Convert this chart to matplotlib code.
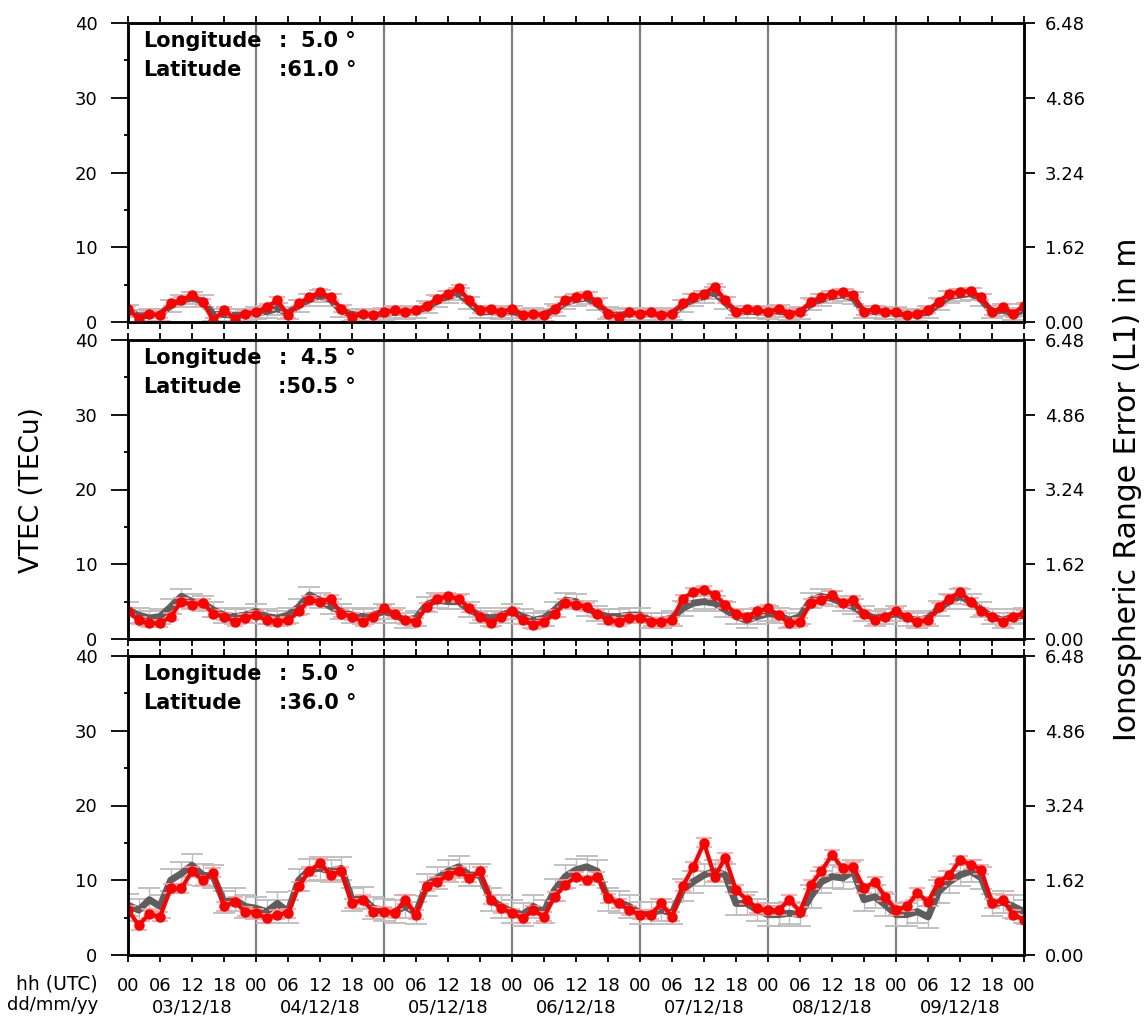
import numpy as np
import matplotlib
matplotlib.use("Agg")
import matplotlib.pyplot as plt
import matplotlib.transforms as mtransforms

plt.rcParams['font.family'] = ['DejaVu Sans']

# 2-hourly samples from 03/12/18 00 UTC to 10/12/18 00 UTC
hours = np.arange(0, 169, 2)
day_labels = ["03/12/18", "04/12/18", "05/12/18", "06/12/18", "07/12/18", "08/12/18", "09/12/18"]
lon_labels = ["5.0", "4.5", "5.0"]
lat_labels = ["61.0", "50.5", "36.0"]

# panel 1 (61.0 N)
obs_61 = [1.8, 0.45, 1.1, 0.9, 2.5, 2.9, 3.6, 2.7, 0.2, 1.6, 0.45, 1.1, 1.3,
          2.0, 2.9, 0.9, 2.5, 3.3, 4.0, 3.3, 1.8, 0.7, 1.1, 0.9, 1.3,
          1.6, 1.3, 1.6, 2.2, 3.1, 3.8, 4.5, 2.9, 1.6, 1.8, 1.3, 1.8,
          0.9, 1.1, 0.9, 1.8, 2.9, 3.3, 3.6, 2.7, 1.1, 0.7, 1.3, 1.1,
          1.3, 0.9, 1.1, 2.5, 3.3, 3.8, 4.7, 2.9, 1.3, 1.8, 1.6, 1.3,
          1.8, 1.1, 1.3, 2.7, 3.3, 3.8, 4.0, 3.6, 1.3, 1.8, 1.3, 1.3,
          0.9, 1.1, 1.6, 2.7, 3.8, 4.0, 4.2, 3.3, 1.3, 2.0, 1.1, 2.2]
mod_61 = [1.5, 0.8, 0.9, 1.0, 2.2, 2.8, 3.2, 2.8, 1.0, 1.0, 0.9, 1.0, 1.2,
          1.4, 1.8, 1.2, 2.2, 3.0, 3.5, 3.0, 1.5, 1.0, 1.0, 0.9, 1.1,
          1.3, 1.2, 1.4, 2.0, 2.8, 3.4, 3.8, 2.6, 1.3, 1.4, 1.2, 1.4,
          1.0, 1.1, 1.0, 1.6, 2.6, 3.0, 3.2, 2.4, 1.2, 0.9, 1.1, 1.0,
          1.1, 1.0, 1.1, 2.2, 3.0, 3.4, 3.9, 2.6, 1.3, 1.4, 1.4, 1.2,
          1.5, 1.1, 1.2, 2.4, 3.0, 3.4, 3.6, 3.2, 1.3, 1.4, 1.2, 1.2,
          1.0, 1.0, 1.3, 2.4, 3.4, 3.6, 3.8, 3.0, 1.3, 1.6, 1.1, 1.6]

# panel 2 (50.5 N)
obs_50 = [3.7, 2.5, 2.1, 2.1, 3.0, 5.0, 4.6, 4.8, 3.4, 3.0, 2.3, 2.8, 3.2,
          2.5, 2.3, 2.5, 3.7, 5.2, 5.0, 5.4, 3.4, 3.0, 2.3, 3.0, 4.1,
          3.4, 2.5, 2.3, 4.3, 5.4, 5.7, 5.4, 4.1, 3.0, 2.1, 3.0, 3.7,
          2.5, 1.9, 2.3, 3.4, 4.8, 4.6, 4.3, 3.4, 2.5, 2.3, 2.8, 2.8,
          2.3, 2.3, 2.5, 5.4, 6.3, 6.6, 5.9, 4.6, 3.4, 3.0, 3.7, 4.1,
          3.2, 2.1, 2.3, 4.8, 5.2, 5.9, 4.8, 5.2, 3.4, 2.5, 3.0, 3.7,
          3.0, 2.3, 2.5, 4.3, 5.4, 6.3, 5.0, 3.7, 3.0, 2.3, 3.0, 3.4]
mod_50 = [3.9, 3.2, 2.8, 3.0, 4.3, 5.7, 5.0, 4.8, 3.9, 3.2, 3.0, 3.2, 3.7,
          3.0, 2.8, 3.2, 4.3, 5.9, 5.2, 4.3, 3.7, 3.2, 3.0, 3.2, 3.7,
          3.2, 2.5, 2.8, 4.6, 5.2, 5.0, 5.0, 3.9, 3.2, 2.8, 3.2, 3.7,
          3.0, 2.5, 2.8, 3.9, 5.2, 5.0, 4.1, 3.4, 3.0, 3.0, 3.2, 3.2,
          2.5, 2.5, 2.8, 4.1, 4.8, 5.0, 4.8, 3.9, 3.0, 2.5, 3.0, 3.4,
          3.2, 2.5, 3.0, 5.2, 5.7, 5.4, 4.8, 4.3, 3.4, 2.8, 3.0, 3.4,
          2.8, 2.5, 2.8, 4.1, 5.0, 5.7, 5.0, 3.9, 3.0, 2.5, 3.0, 3.2]

# panel 3 (36.0 N)
obs_36 = [6.0, 4.0, 5.5, 5.1, 8.9, 8.9, 11.2, 10.0, 11.0, 6.5, 7.1, 5.8, 5.6,
          4.9, 5.4, 5.6, 9.2, 11.2, 12.3, 10.7, 11.2, 6.9, 7.4, 5.8, 5.8,
          5.6, 7.4, 5.4, 9.2, 9.8, 10.7, 11.2, 10.3, 11.2, 7.4, 6.25, 5.6,
          4.9, 6.0, 5.1, 7.8, 9.4, 10.5, 10.0, 10.5, 7.6, 6.9, 6.0, 5.4,
          5.4, 6.9, 5.1, 9.2, 11.8, 15.0, 10.5, 13.0, 8.7, 7.4, 6.25, 6.0,
          6.0, 7.4, 5.8, 9.4, 11.2, 13.4, 11.6, 11.8, 8.9, 9.8, 7.8, 6.0,
          6.5, 8.3, 7.1, 9.8, 10.7, 12.7, 12.1, 11.4, 6.9, 7.4, 5.4, 4.7]
mod_36 = [6.7, 6.0, 7.4, 6.5, 10.0, 10.9, 12.0, 10.7, 10.5, 7.1, 7.4, 6.5, 6.25,
          5.8, 6.9, 5.8, 10.0, 11.4, 11.6, 11.2, 11.6, 7.4, 7.6, 6.25, 6.0,
          5.8, 6.5, 5.6, 9.4, 10.3, 11.2, 11.8, 10.7, 10.7, 7.4, 6.5, 5.8,
          5.4, 6.5, 5.8, 8.7, 10.5, 11.4, 11.8, 11.2, 7.4, 7.1, 6.5, 5.6,
          5.6, 6.0, 5.6, 8.7, 9.8, 10.7, 11.2, 10.7, 6.9, 6.9, 6.0, 5.4,
          5.4, 5.6, 5.4, 7.8, 9.8, 10.5, 10.3, 11.2, 7.4, 7.8, 6.7, 5.4,
          5.4, 5.8, 5.1, 8.5, 9.8, 10.7, 11.2, 10.3, 6.7, 7.1, 6.5, 5.8]

obs_all = [obs_61, obs_50, obs_36]
mod_all = [mod_61, mod_50, mod_36]
err_mod = [0.8, 1.0, 1.5]
err_obs = [0.4, 0.5, 0.6]

right_ticks = [0.00, 1.62, 3.24, 4.86, 6.48]

fig = plt.figure(figsize=(11.44, 10.16), dpi=100)
W, H = 1144.0, 1016.0
tops = [23, 340, 656]
ph = 299

for i in range(3):
    ax = fig.add_axes([128 / W, (H - tops[i] - ph) / H, 896 / W, ph / H])
    for d in range(1, 7):
        ax.axvline(24 * d, color='#7f7f7f', lw=1.6, zorder=1)

    ax.errorbar(hours, mod_all[i], yerr=err_mod[i], fmt='none', ecolor='#bdbdbd',
                elinewidth=1, capsize=8, capthick=1.3, zorder=2)
    ax.plot(hours, mod_all[i], color='#5e5e5e', lw=5, zorder=3)
    ax.errorbar(hours, obs_all[i], yerr=err_obs[i], fmt='none', ecolor='#ff9e9e',
                elinewidth=1, capsize=6, capthick=1.2, zorder=4)
    ax.plot(hours, obs_all[i], color='red', lw=3, marker='o', ms=6.5, mec='red', zorder=5)

    ax.set_xlim(0, 168)
    ax.set_ylim(0, 40)
    ax.set_xticks(np.arange(0, 169, 6))
    ax.set_yticks([0, 10, 20, 30, 40])
    ax.set_yticks([5, 15, 25, 35], minor=True)
    ax.tick_params(axis='y', which='major', direction='out', length=12, width=1.3,
                   pad=10, labelsize=13)
    ax.tick_params(axis='y', which='minor', direction='out', length=3, width=1.3)
    ax.tick_params(axis='x', direction='out', length=5, width=1.3, top=True, bottom=True)
    for s in ax.spines.values():
        s.set_linewidth(1.8)

    if i == 2:
        ax.set_xticklabels(["%02d" % (h % 24) for h in np.arange(0, 169, 6)], fontsize=13)
        ax.tick_params(axis='x', pad=11)
        trans = mtransforms.blended_transform_factory(ax.transData, ax.transAxes)
        for d, lab in enumerate(day_labels):
            ax.text(12 + 24 * d, -(1013 - 955) / ph, lab, transform=trans,
                    ha='center', va='baseline', fontsize=13)
    else:
        ax.set_xticklabels([])

    ax.text(0.0167, 0.919, "Longitude", transform=ax.transAxes, fontsize=15,
            fontweight='bold', va='baseline', zorder=6)
    ax.text(0.173, 0.919, ":", transform=ax.transAxes, fontsize=15,
            fontweight='bold', va='baseline', ha='center', zorder=6)
    ax.text(0.2545, 0.919, lon_labels[i] + " °", transform=ax.transAxes, fontsize=15,
            fontweight='bold', va='baseline', ha='right', zorder=6)
    ax.text(0.0167, 0.822, "Latitude", transform=ax.transAxes, fontsize=15,
            fontweight='bold', va='baseline', zorder=6)
    ax.text(0.2545, 0.822, ":" + lat_labels[i] + " °", transform=ax.transAxes, fontsize=15,
            fontweight='bold', va='baseline', ha='right', zorder=6)

    ax2 = ax.twinx()
    ax2.set_ylim(0, 6.48)
    ax2.set_yticks(right_ticks)
    ax2.set_yticklabels(["%.2f" % t for t in right_ticks])
    ax2.tick_params(axis='y', direction='out', length=8, width=1.3, pad=7, labelsize=13)
    for s in ax2.spines.values():
        s.set_linewidth(1.8)

fig.text(0.028, 0.518, "VTEC (TECu)", rotation=90, ha='center', va='center', fontsize=19)
fig.text(0.986, 0.518, "Ionospheric Range Error (L1) in m", rotation=90,
         ha='center', va='center', fontsize=21.5)
fig.text(98 / W, (H - 989) / H, "hh (UTC)", ha='right', va='baseline', fontsize=13.5)
fig.text(98 / W, (H - 1010) / H, "dd/mm/yy", ha='right', va='baseline', fontsize=13)

fig.savefig("out.png", dpi=100)
